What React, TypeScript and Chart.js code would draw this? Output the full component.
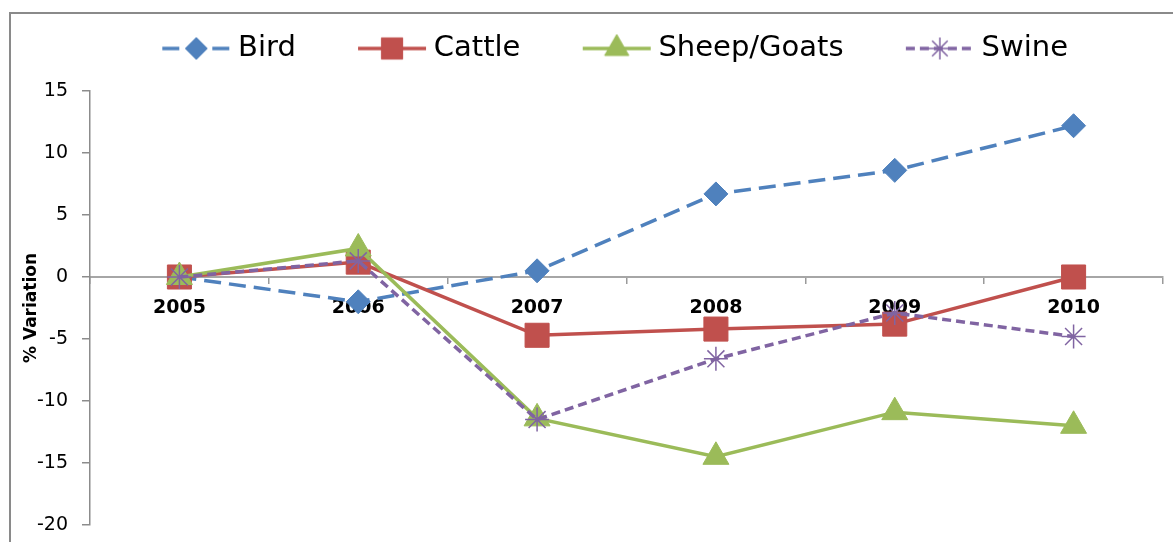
import React, { useEffect, useRef } from "react";
import { Chart, registerables } from "chart.js";
import { drawPoint } from "chart.js/helpers";

Chart.register(...registerables);

const years = ["2005", "2006", "2007", "2008", "2009", "2010"];
const bird = [0, -2.0, 0.5, 6.7, 8.6, 12.2];
const cattle = [0, 1.2, -4.7, -4.2, -3.8, 0];
const sheepGoats = [0, 2.3, -11.4, -14.5, -10.9, -12.0];
const swine = [0, 1.3, -11.5, -6.6, -2.9, -4.8];
const yTicks = { min: -20, max: 15, step: 5 };
const yTitle = "% Variation";

const FONT = "'DejaVu Sans', sans-serif";

type SeriesStyle = {
  label: string;
  data: number[];
  color: string;
  dash: number[];
  pointStyle: string;
  radius: number;
  legendRadius: number;
  pointBorderWidth: number;
};

const series: SeriesStyle[] = [
  { label: "Bird", data: bird, color: "#4F81BD", dash: [17, 8], pointStyle: "rectRot", radius: 12, legendRadius: 11, pointBorderWidth: 1 },
  { label: "Cattle", data: cattle, color: "#C0504D", dash: [], pointStyle: "rect", radius: 17, legendRadius: 15, pointBorderWidth: 1 },
  { label: "Sheep/Goats", data: sheepGoats, color: "#9BBB59", dash: [], pointStyle: "triangle", radius: 15, legendRadius: 14, pointBorderWidth: 1 },
  { label: "Swine", data: swine, color: "#8064A2", dash: [9, 5], pointStyle: "star", radius: 12, legendRadius: 11, pointBorderWidth: 1.5 },
];

// legend icon geometry: transparent lead-in, then a 70px line with the marker in its middle
const LEAD = 56;
const BOX_W = LEAD + 62.5;
const ICON_W = Math.round(2 * (LEAD + 70 - BOX_W / 2));
const ICON_X0 = ICON_W - 70;
const ICON_H = 32;

function makeIcon(s: SeriesStyle): HTMLCanvasElement {
  const c = document.createElement("canvas");
  c.width = ICON_W;
  c.height = ICON_H;
  const ctx = c.getContext("2d")!;
  const cy = ICON_H / 2;
  ctx.strokeStyle = s.color;
  ctx.fillStyle = s.color;
  ctx.lineWidth = 3.5;
  ctx.lineCap = "butt";
  ctx.setLineDash(s.dash);
  ctx.beginPath();
  ctx.moveTo(ICON_X0 + 1, cy);
  ctx.lineTo(ICON_W - 1, cy);
  ctx.stroke();
  ctx.setLineDash([]);
  ctx.lineWidth = s.pointBorderWidth;
  drawPoint(
    ctx,
    { pointStyle: s.pointStyle as any, rotation: 0, radius: s.legendRadius, borderWidth: s.pointBorderWidth } as any,
    ICON_X0 + 35,
    cy
  );
  return c;
}

function noOverhang(scale: any) {
  scale.paddingLeft = 0;
  scale.paddingRight = 0;
  scale.paddingTop = 0;
  scale.paddingBottom = 0;
}

export default function App() {
  const ref = useRef<HTMLCanvasElement | null>(null);

  useEffect(() => {
    if (!ref.current) return;
    const icons = series.map(makeIcon);
    const n = series.length;
    const chart = new Chart(ref.current, {
      type: "line",
      data: {
        labels: years,
        datasets: series.map((s, i) => ({
          label: s.label,
          data: s.data,
          borderColor: s.color,
          backgroundColor: s.color,
          borderWidth: 3.5,
          borderDash: s.dash,
          pointStyle: s.pointStyle as any,
          pointRadius: s.radius,
          pointHoverRadius: s.radius,
          pointBorderWidth: s.pointBorderWidth,
          pointBackgroundColor: s.color,
          pointBorderColor: s.color,
          tension: 0,
          fill: false,
          clip: false as any,
          order: n - i,
        })),
      },
      options: {
        animation: false,
        responsive: false,
        layout: { autoPadding: false, padding: { left: 10, right: 10, top: 29, bottom: 17 } } as any,
        plugins: {
          tooltip: { enabled: false },
          subtitle: {
            display: true,
            text: "",
            position: "top",
            weight: 500,
            font: { size: 10, lineHeight: 1 },
            padding: { top: 8, bottom: 0 },
          } as any,
          legend: {
            position: "top",
            labels: {
              usePointStyle: true,
              pointStyleWidth: BOX_W,
              padding: 5,
              color: "#000",
              font: { family: FONT, size: 29 },
              generateLabels: () =>
                series.map((s, i) => ({
                  text: s.label,
                  fillStyle: s.color,
                  strokeStyle: s.color,
                  lineWidth: 0,
                  pointStyle: icons[i] as any,
                  hidden: false,
                  datasetIndex: i,
                  fontColor: "#000",
                })),
            },
          },
        },
        scales: {
          x: {
            type: "category",
            position: { y: 0 } as any,
            offset: true,
            afterFit: noOverhang,
            grid: {
              display: true,
              offset: true,
              drawOnChartArea: false,
              drawTicks: true,
              tickLength: 6,
              color: "#9A9A9A",
              lineWidth: 1.5,
            },
            border: { display: true, color: "#A6A6A6", width: 2 },
            ticks: {
              color: "#000",
              padding: 14,
              font: { family: FONT, size: 19, weight: "bold" },
              maxRotation: 0,
            },
          },
          y: {
            min: yTicks.min,
            max: yTicks.max,
            afterFit: (scale: any) => {
              scale.width = 80;
              noOverhang(scale);
            },
            ticks: {
              stepSize: yTicks.step,
              color: "#000",
              padding: 14,
              font: { family: FONT, size: 19 },
            },
            grid: {
              display: true,
              drawOnChartArea: false,
              drawTicks: true,
              tickLength: 8,
              color: "#8C8C8C",
              lineWidth: 1.5,
            },
            border: { display: true, color: "#8C8C8C", width: 1.5 },
            title: {
              display: true,
              text: yTitle,
              color: "#000",
              font: { family: FONT, size: 17, weight: "bold" },
              padding: { top: 11, bottom: 0 },
            },
          },
        },
      },
    });
    return () => chart.destroy();
  }, []);

  return (
    <div style={{ position: "fixed", left: 0, top: 0, width: 1173, height: 542, overflow: "hidden", background: "#fff" }}>
      <div
        style={{
          position: "absolute",
          left: 9,
          top: 12,
          width: 1300,
          height: 700,
          borderTop: "2px solid #8A8A8A",
          borderLeft: "2px solid #8A8A8A",
        }}
      />
      <canvas ref={ref} width={1173} height={542} style={{ position: "absolute", left: 0, top: 0, width: 1173, height: 542 }} />
    </div>
  );
}
